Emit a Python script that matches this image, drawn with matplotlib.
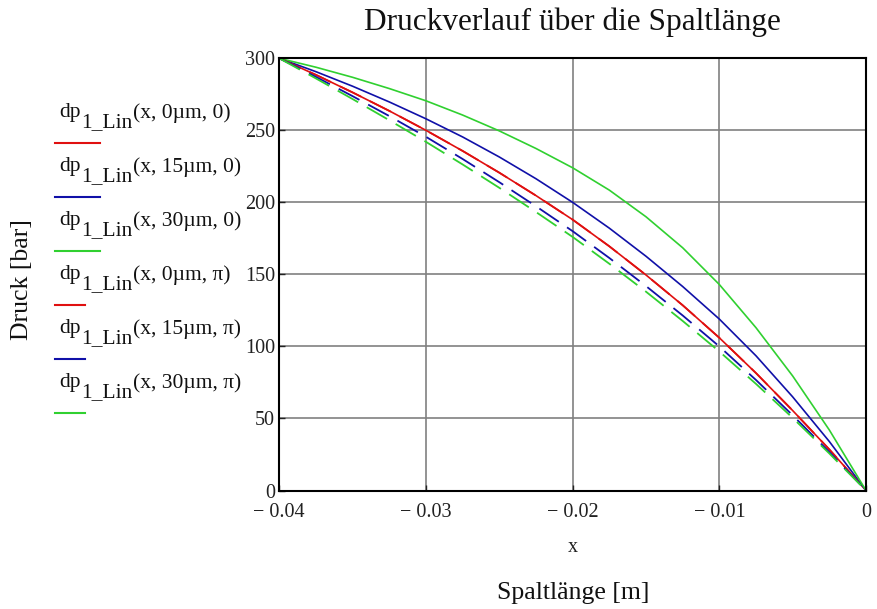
import matplotlib
matplotlib.use("Agg")
import matplotlib.pyplot as plt

plt.rcParams['font.family'] = ['Liberation Serif', 'DejaVu Serif']

# Spaltlänge x [m]
x_pos = [-0.04, -0.0375, -0.035, -0.0325, -0.03, -0.0275, -0.025, -0.0225, -0.02,
         -0.0175, -0.015, -0.0125, -0.01, -0.0075, -0.005, -0.0025, 0.0]

# Druck [bar]
dp_0um_0 = [300, 288.5, 276.3, 263.5, 250, 235.7, 220.6, 204.7, 188,
            169.5, 149.6, 128.6, 106, 81.5, 55.5, 28.5, 0]
dp_15um_0 = [300, 290.7, 280.6, 269.7, 258, 245.4, 231.5, 216.4, 200,
             182.1, 162.6, 141.6, 119, 93.5, 65, 34, 0]
dp_30um_0 = [300, 293.8, 286.8, 279, 270.5, 260.6, 249.6, 237.4, 224,
             208.5, 190, 168.5, 143, 113, 79.5, 42, 0]
dp_0um_pi = [300, 288.5, 276.3, 263.5, 250, 235.7, 220.6, 204.7, 188,
             169.5, 149.6, 128.6, 106, 81.5, 55.5, 28.5, 0]
dp_15um_pi = [300, 287.1, 273.7, 259.9, 245.5, 230.1, 214, 197.3, 180,
              161.4, 141.9, 121.5, 100, 76.7, 52.2, 26.7, 0]
dp_30um_pi = [300, 286, 271.7, 257, 242, 226.3, 210.1, 193.3, 176,
              157.4, 138, 117.7, 96.5, 74, 50.4, 25.7, 0]

series_args = ['(x, 0µm, 0)', '(x, 15µm, 0)', '(x, 30µm, 0)',
               '(x, 0µm, π)', '(x, 15µm, π)', '(x, 30µm, π)']
series_colors = ['#e01010', '#1010a8', '#30d030', '#e01010', '#1010a8', '#30d030']
series_dashed = [False, False, False, True, True, True]

xticks = [-0.04, -0.03, -0.02, -0.01, 0.0]
xtick_labels = ['− 0.04', '− 0.03', '− 0.02', '− 0.01', '0']
yticks = [0, 50, 100, 150, 200, 250, 300]

W, H = 877, 609
fig = plt.figure(figsize=(W / 100, H / 100), dpi=100)
ax = fig.add_axes([279.3 / W, 1 - 490.5 / H, 586.7 / W, 432.2 / H])

all_series = [dp_0um_0, dp_15um_0, dp_30um_0, dp_0um_pi, dp_15um_pi, dp_30um_pi]
for vals, col, dashed in zip(all_series, series_colors, series_dashed):
    if dashed:
        ax.plot(x_pos, vals, color=col, lw=1.3, dashes=(13, 5.5))
    else:
        ax.plot(x_pos, vals, color=col, lw=1.2)

ax.set_xlim(-0.04, 0)
ax.set_ylim(0, 300)
ax.set_xticks(xticks)
ax.set_xticklabels(xtick_labels)
ax.set_yticks(yticks)
ax.grid(True, color='#808080', lw=1.2)
ax.set_axisbelow(True)
for s in ax.spines.values():
    s.set_linewidth(1.5)
    s.set_color('black')
ax.tick_params(direction='in', length=4, width=1, labelsize=14.5, colors='#222222', pad=3)
ax.tick_params(axis='x', pad=9)

fig.text(572 / W, 1 - 22 / H, 'Druckverlauf über die Spaltlänge', fontsize=22.5,
         ha='center', va='center', color='#111111')
fig.text(573 / W, 1 - 548 / H, 'x', fontsize=14.5, ha='center', va='center', color='#222222')
fig.text(573 / W, 1 - 593 / H, 'Spaltlänge [m]', fontsize=18.5, ha='center', va='center',
         color='#111111')
fig.text(22 / W, 1 - 280 / H, 'Druck [bar]', fontsize=18.5, ha='center', va='center',
         rotation=90, color='#111111')

# legend, Mathcad style: label above a short line
line_y = [143, 197, 251, 305, 359, 413]
for i, (arg, col, dashed) in enumerate(zip(series_args, series_colors, series_dashed)):
    ly = line_y[i]
    t1 = fig.text(59 / W, 1 - (ly - 26) / H, 'dp', fontsize=15.5, va='baseline', color='#111111')
    t2 = ax.annotate('1_Lin', xy=(1, 0), xycoords=t1, xytext=(0.5, -4), textcoords='offset points',
                     fontsize=15.5, va='baseline', color='#111111', annotation_clip=False)
    ax.annotate(arg, xy=(1, 0), xycoords=(t2, t1), xytext=(0.5, 3), textcoords='offset points',
                fontsize=15.5, va='baseline', color='#111111', annotation_clip=False)
    x_end = 85 if dashed else 100
    fig.add_artist(plt.Line2D([55 / W, x_end / W], [1 - ly / H, 1 - ly / H], color=col, lw=1.5))

fig.savefig('out.png', dpi=100)
